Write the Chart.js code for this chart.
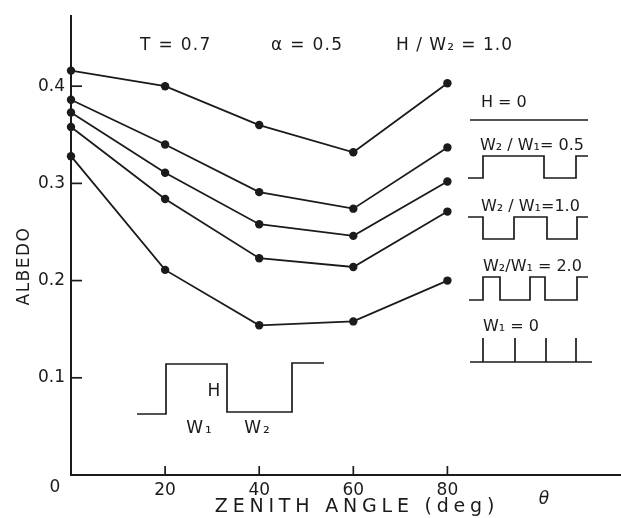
<!DOCTYPE html>
<html>
<head>
<meta charset="utf-8">
<script src="https://cdn.jsdelivr.net/npm/chart.js@4/dist/chart.umd.min.js"></script>
<style>
  html, body { margin: 0; background: #fff; }
  #wrap { width: 621px; height: 518px; }
</style>
</head>
<body>
<div id="wrap"><canvas id="myChart"></canvas></div>
<script>
// zenith angle (deg)
const angles = [0, 20, 40, 60, 80];
// albedo for each surface profile
const albedoFlat = [0.416, 0.400, 0.360, 0.332, 0.403];   // H = 0
const albedoHalf = [0.386, 0.340, 0.291, 0.274, 0.337];   // W2/W1 = 0.5
const albedoOne  = [0.373, 0.311, 0.258, 0.246, 0.302];   // W2/W1 = 1.0
const albedoTwo  = [0.358, 0.284, 0.223, 0.214, 0.271];   // W2/W1 = 2.0
const albedoComb = [0.328, 0.211, 0.154, 0.158, 0.200];   // W1 = 0

const xTicks = [0, 20, 40, 60, 80];
const yTicks = [0, 0.1, 0.2, 0.3, 0.4];

const ink = '#1b1b1b';
const fontFam = '"DejaVu Sans", sans-serif';

function series(label, values) {
    return {
        label: label,
        data: angles.map((a, i) => ({ x: a, y: values[i] })),
        borderColor: ink,
        borderWidth: 1.8,
        pointRadius: 4.2,
        pointBackgroundColor: ink,
        pointBorderWidth: 0,
        tension: 0,
        clip: false
    };
}

// outline of a surface profile, drawn as a polyline
function poly(ctx, pts) {
    ctx.beginPath();
    ctx.moveTo(pts[0][0], pts[0][1]);
    for (let i = 1; i < pts.length; i++) ctx.lineTo(pts[i][0], pts[i][1]);
    ctx.stroke();
}

function text(ctx, str, x, y, size, align, spacing) {
    ctx.font = size + 'px ' + fontFam;
    ctx.textAlign = align || 'left';
    ctx.textBaseline = 'middle';
    ctx.letterSpacing = (spacing || 0) + 'px';
    ctx.fillText(str, x, y);
    ctx.letterSpacing = '0px';
}

const overlay = {
    id: 'overlay',
    afterDraw(chart) {
        const { ctx, chartArea: a, scales: { x, y } } = chart;
        ctx.save();
        ctx.strokeStyle = ink;
        ctx.fillStyle = ink;

        // x axis runs on to the page edge
        ctx.lineWidth = 2;
        poly(ctx, [[a.left, a.bottom], [chart.width, a.bottom]]);

        ctx.lineWidth = 1.7;
        // inward tick marks
        yTicks.filter(v => v > 0).forEach(v => {
            const py = y.getPixelForValue(v);
            poly(ctx, [[a.left, py], [a.left + 11, py]]);
        });
        xTicks.filter(v => v > 0).forEach(v => {
            const px = x.getPixelForValue(v);
            poly(ctx, [[px, a.bottom], [px, a.bottom - 9]]);
        });

        // origin label and axis titles
        text(ctx, '0', x.getPixelForValue(0) - 16, a.bottom + 13, 17, 'center');
        text(ctx, 'ZENITH ANGLE (deg)', 357, 507, 19, 'center', 4.8);
        ctx.font = 'italic 17px ' + fontFam;
        ctx.textAlign = 'center';
        ctx.fillText('θ', 544, 500);
        ctx.save();
        ctx.translate(25, 266);
        ctx.rotate(-Math.PI / 2);
        text(ctx, 'ALBEDO', 0, 0, 17, 'center', 1.5);
        ctx.restore();

        // parameters
        text(ctx, 'T = 0.7', 140, 46, 17, 'left', 1.3);
        text(ctx, 'α = 0.5', 271, 46, 17, 'left', 1.3);
        text(ctx, 'H / W₂ = 1.0', 396, 46, 17, 'left', 1);

        // legend of surface profiles
        text(ctx, 'H = 0', 481, 103, 16);
        poly(ctx, [[470, 120], [588, 120]]);

        text(ctx, 'W₂ / W₁= 0.5', 480, 146, 16);
        poly(ctx, [[468, 178], [483, 178], [483, 156], [544, 156], [544, 178],
                   [576, 178], [576, 156], [588, 156]]);

        text(ctx, 'W₂ / W₁=1.0', 481, 207, 16);
        poly(ctx, [[468, 217], [483, 217], [483, 239], [514, 239], [514, 217],
                   [547, 217], [547, 239], [577, 239], [577, 217], [588, 217]]);

        text(ctx, 'W₂/W₁ = 2.0', 483, 267, 16);
        poly(ctx, [[469, 300], [483, 300], [483, 277], [500, 277], [500, 300],
                   [530, 300], [530, 277], [545, 277], [545, 300], [577, 300],
                   [577, 277], [588, 277]]);

        text(ctx, 'W₁ = 0', 483, 327, 16);
        poly(ctx, [[470, 362], [592, 362]]);
        [483, 515, 546, 576].forEach(px => poly(ctx, [[px, 338], [px, 362]]));

        // sketch of the surface
        poly(ctx, [[137, 414], [166, 414], [166, 364], [227, 364], [227, 412],
                   [292, 412], [292, 363], [324, 363]]);
        text(ctx, 'H', 214, 392, 17, 'center');
        text(ctx, 'W₁', 200, 429, 17, 'center', 2);
        text(ctx, 'W₂', 258, 429, 17, 'center', 2);

        ctx.restore();
    }
};

new Chart(document.getElementById('myChart'), {
    type: 'line',
    data: {
        datasets: [
            series('H = 0', albedoFlat),
            series('W2/W1 = 0.5', albedoHalf),
            series('W2/W1 = 1.0', albedoOne),
            series('W2/W1 = 2.0', albedoTwo),
            series('W1 = 0', albedoComb)
        ]
    },
    options: {
        responsive: true,
        maintainAspectRatio: false,
        animation: false,
        layout: { padding: { top: 15, right: 0, bottom: 0, left: 0 } },
        plugins: {
            legend: { display: false },
            tooltip: { enabled: false }
        },
        scales: {
            x: {
                type: 'linear',
                min: 0,
                max: 116,
                afterBuildTicks: s => { s.ticks = xTicks.map(v => ({ value: v })); },
                afterFit: s => { s.height = 43; },
                grid: { display: true, drawOnChartArea: false, drawTicks: false },
                border: { display: true, color: ink, width: 2 },
                ticks: {
                    color: ink,
                    padding: 5,
                    maxRotation: 0,
                    font: { family: fontFam, size: 17 },
                    callback: v => v === 0 ? '' : v
                }
            },
            y: {
                min: 0,
                max: 0.472,
                afterBuildTicks: s => { s.ticks = yTicks.map(v => ({ value: v })); },
                afterFit: s => { s.width = 71; },
                grid: { display: true, drawOnChartArea: false, drawTicks: false },
                border: { display: true, color: ink, width: 2 },
                ticks: {
                    color: ink,
                    padding: 6,
                    font: { family: fontFam, size: 17 },
                    callback: v => v === 0 ? '' : v.toFixed(1)
                }
            }
        }
    },
    plugins: [overlay]
});
</script>
</body>
</html>
